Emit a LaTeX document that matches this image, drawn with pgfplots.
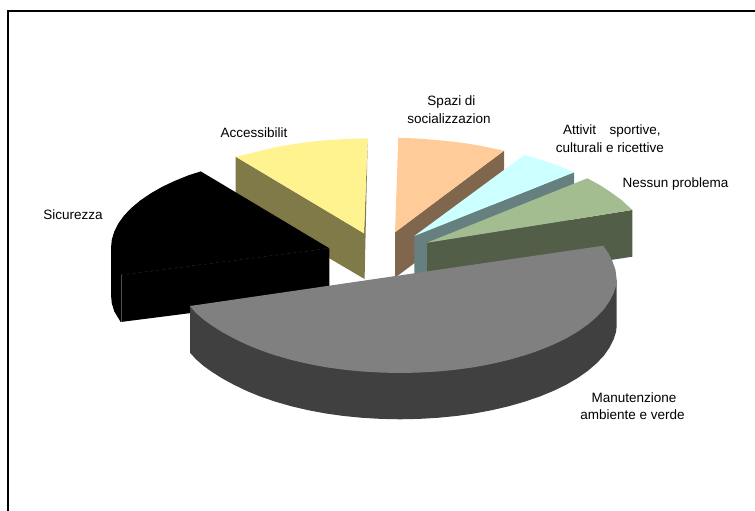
\documentclass[border=0pt]{standalone}
\usepackage{fontspec}
\setmainfont{Liberation Sans}
\usepackage{pgfplots}
\pgfplotsset{compat=1.18}
\definecolor{yellowtop}{RGB}{255,243,143}
\definecolor{yellowside}{RGB}{128,122,72}
\definecolor{peachtop}{RGB}{255,204,153}
\definecolor{peachside}{RGB}{128,102,77}
\definecolor{cyantop}{RGB}{204,255,255}
\definecolor{cyanside}{RGB}{102,128,128}
\definecolor{greentop}{RGB}{163,189,144}
\definecolor{greenside}{RGB}{82,94,71}
\definecolor{greytop}{RGB}{128,128,128}
\definecolor{greyside}{RGB}{64,64,64}
\newcommand{\lab}[1]{\fontsize{13.5}{15}\selectfont #1}
\begin{document}
\begin{tikzpicture}
\useasboundingbox (0,0) rectangle (755pt,511pt);
\begin{axis}[
  scale only axis, width=755pt, height=511pt,
  xmin=0, xmax=755, ymin=0, ymax=511, y dir=reverse,
  hide axis, clip=true,
]
% chart frame: left and top rules
\addplot[draw=black, line width=2pt] coordinates {(8,520) (8,11) (765,11)};

% Accessibilita
\addplot[fill=yellowside, draw=none] coordinates {(235.7,156.7) (364,233.3) (364,278.7) (235.7,203)} --cycle;
\addplot[fill=yellowside, draw=none] coordinates {(367.7,138.3) (364.6,278.7) (364,278.7) (364,233.3)} --cycle;
\addplot[fill=yellowtop, draw=none] coordinates {(235.7,156.7) (250,153.5) (263.3,150) (277,147) (290,144.7) (306,142.3) (323,140.5) (345,139) (367.7,138.3) (364,233.3)} --cycle;

% Spazi di socializzazione
\addplot[fill=peachside, draw=none] coordinates {(504,150.7) (504,196) (395,277.7) (395,232.3)} --cycle;
\addplot[fill=peachtop, draw=none] coordinates {(398.3,137.7) (420,138.7) (436,140) (453.3,141.7) (467,143.5) (480,145.7) (504,150.7) (395,232.3)} --cycle;

% Attivita sportive, culturali e ricettive
\addplot[fill=cyanside, draw=none] coordinates {(574,172.3) (574,218) (414.3,281) (414.3,236)} --cycle;
\addplot[fill=cyantop, draw=none] coordinates {(524.3,155) (537,158.6) (550,162.7) (562,167.2) (574,172.3) (414.3,236)} --cycle;

% Nessun problema
\addplot[fill=greenside, draw=none] coordinates {(632.3,210) (632.3,256.7) (427,288) (427,242.7)} --cycle;
\addplot[fill=greentop, draw=none] coordinates {(587.3,178.3) (599,184.6) (610,191.7) (621.5,200) (632.3,210) (427,242.7)} --cycle;

% Sicurezza
\addplot[fill=black, draw=none] coordinates {(111,248) (111,295) (111.8,303.3) (114.3,311.5) (120.7,322) (329.3,295.3) (329.3,248.3)} --cycle;
\addplot[fill=black, draw=none] coordinates {(120.7,275) (114.3,264.5) (111.8,256.3) (111,248) (111.8,239.7) (114.3,231.5) (118.4,223.4) (124.1,215.5) (131.5,207.8) (140.2,200.5) (150.5,193.5) (162,186.9) (174.9,180.8) (188.8,175.2) (200.8,171.4) (329.3,248.3)} --cycle;
\addplot[draw=black!75, line width=0.25pt, dashed] coordinates {(120.7,275) (329.3,248.3)};
\addplot[draw=black!70, line width=0.25pt] coordinates {(120.7,275) (120.7,322)};

% Manutenzione ambiente e verde
\addplot[fill=greyside, draw=none] coordinates {(616.7,280) (616.7,326) (616,332) (613.7,339.2) (609.6,347.4) (604,355.5) (596.6,363.3) (587.9,370.8) (577.8,377.9) (566.2,384.7) (553.4,390.9) (539.5,396.6) (524.5,401.7) (508.5,406.3) (491.8,410.2) (474.2,413.5) (456.2,416) (437.7,417.8) (418.9,418.9) (400,419.3) (381.1,418.9) (362.3,417.8) (343.8,416) (325.8,413.5) (308.2,410.2) (291.5,406.3) (275.5,401.7) (260.5,396.6) (246.6,390.9) (233.8,384.7) (222.2,378.4) (212.1,372) (203.4,365.8) (196,359.3) (190,352.7) (190,306)} --cycle;
\addplot[fill=greytop, draw=none] coordinates {(603.3,245.7) (608.5,253.5) (612.5,261.5) (615.5,270) (616.7,280) (616,286) (613.7,292.9) (609.6,301.1) (604,309.2) (596.6,317) (587.9,324.5) (577.8,331.6) (566.2,338.4) (553.4,344.6) (539.5,350.3) (524.5,355.4) (508.5,360) (491.8,363.9) (474.2,367.2) (456.2,369.7) (437.7,371.5) (418.9,372.6) (400,373) (381.1,372.6) (362.3,371.5) (343.8,369.7) (325.8,367.2) (308.2,363.9) (291.5,360) (275.5,355.4) (260.5,350.3) (246.6,344.6) (233.8,338.4) (222.2,332.1) (212.1,325.7) (203.4,319.5) (196,313) (190,306)} --cycle;

% Slice labels
\node[inner sep=0pt] at (axis cs:73,214.5) {\lab{Sicurezza}};
\node[inner sep=0pt, anchor=west] at (axis cs:220.5,133) {\lab{Accessibilit}};
\node[inner sep=0pt] at (axis cs:451.5,102.5) {\lab{Spazi di}};
\node[inner sep=0pt] at (axis cs:449,119) {\lab{socializzazion}};
\node[inner sep=0pt, anchor=west] at (axis cs:563,131) {\lab{Attivit\hspace{1em}sportive,}};
\node[inner sep=0pt] at (axis cs:610,148) {\lab{culturali e ricettive}};
\node[inner sep=0pt] at (axis cs:675.5,184.5) {\lab{Nessun problema}};
\node[inner sep=0pt] at (axis cs:634,398) {\lab{Manutenzione}};
\node[inner sep=0pt] at (axis cs:632.5,414.5) {\lab{ambiente e verde}};
\end{axis}
\end{tikzpicture}
\end{document}
